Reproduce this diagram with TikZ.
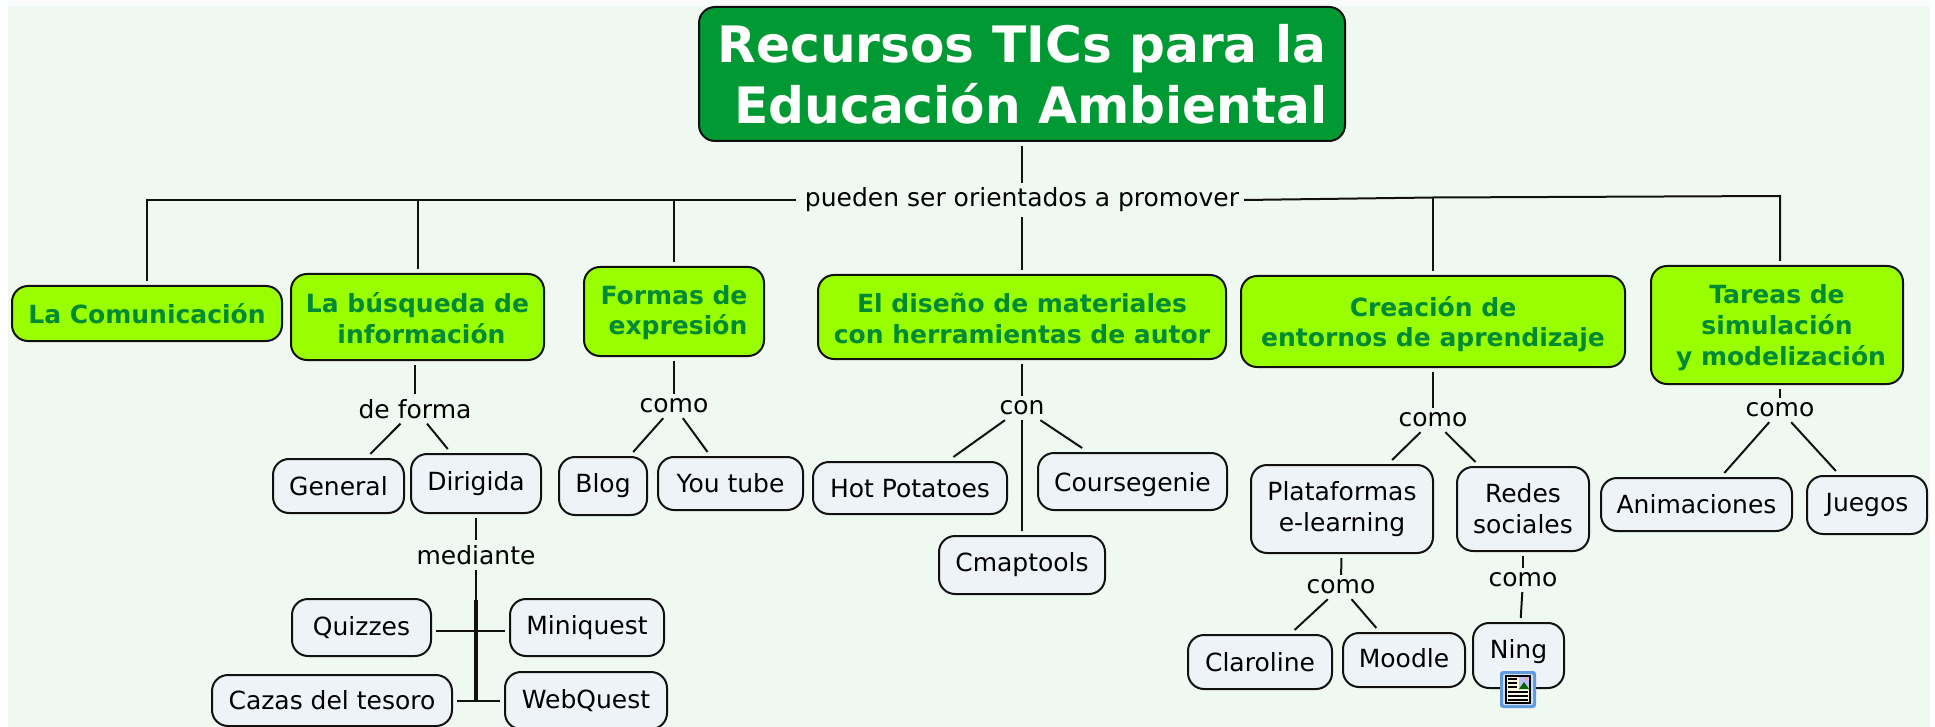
\documentclass[tikz,border=0pt]{standalone}
\usepackage{fontspec}
\setmainfont{DejaVu Sans}
\definecolor{bgc}{HTML}{EFF9F1}
\definecolor{topc}{HTML}{F9FCFB}
\definecolor{titlec}{HTML}{009933}
\definecolor{limec}{HTML}{99FF00}
\definecolor{limetext}{HTML}{008A33}
\definecolor{grayc}{HTML}{EEF3F8}
\definecolor{linec}{HTML}{111111}
\definecolor{iconframe}{HTML}{5F9BDC}
\definecolor{iconinner}{HTML}{CFE0F5}
\definecolor{iconpage}{HTML}{FFF9E0}
\newcommand\shifted[2]{\vbox{\kern#1\hbox{\begin{tabular}{@{}c@{}}#2\end{tabular}}}}
\tikzset{
  basebox/.style={draw=linec,line width=2pt,rounded corners=16pt,outer sep=5pt,inner sep=0pt,align=center},
  titlebox/.style={basebox,fill=titlec,text=white,font=\fontsize{50.2}{61}\selectfont\bfseries},
  limebox/.style={basebox,fill=limec,text=limetext,font=\fontsize{25}{30.7}\selectfont\bfseries},
  graybox/.style={basebox,fill=grayc,text=black,font=\fontsize{25}{30.5}\selectfont},
  linklabel/.style={inner sep=0pt,outer sep=5pt,text=black,font=\fontsize{25}{30}\selectfont},
  conn/.style={draw=linec,line width=2pt},
  size/.style 2 args={minimum width=#1pt,minimum height=#2pt},
}
\begin{document}
\begin{tikzpicture}[x=1pt,y=-1pt]
\useasboundingbox (0,0) rectangle (1935,727);
\fill[white] (0,0) rectangle (1935,727);
\fill[topc] (8,0) rectangle (1930,6);
\fill[bgc] (8,6) rectangle (1930,727);
% title
\node[titlebox,size={646}{134}] (title) at (1022,74) {Recursos TICs para la\\\hspace*{18pt}Educación Ambiental};
% link labels
\node[linklabel] (pueden) at (1022,200) {pueden ser orientados a promover};
\node[linklabel] (deforma) at (415,409) {de forma};
\node[linklabel] (comoF) at (674,406) {como};
\node[linklabel] (mediante) at (476,555) {mediante};
\node[linklabel] (con) at (1022,408) {con};
\node[linklabel] (comoC) at (1433,420) {como};
\node[linklabel] (comoT) at (1780,410) {como};
\node[linklabel] (comoP) at (1341,587) {como};
\node[linklabel] (comoR) at (1523,580) {como};
% main concepts
\node[limebox,size={270}{55}] (comun) at (147,313.5) {\shifted{7pt}{La Comunicación}};
\node[limebox,size={253}{86}] (busq) at (417.5,317) {\shifted{10pt}{La búsqueda de\\\hspace*{8pt}información}};
\node[limebox,size={180}{89}] (formas) at (674,311.5) {\shifted{3.5pt}{Formas de\\\hspace*{8pt}expresión}};
\node[limebox,size={408}{84}] (diseno) at (1022,317) {\shifted{9.5pt}{El diseño de materiales\\con herramientas de autor}};
\node[limebox,size={384}{91}] (crea) at (1433,321.5) {\shifted{7.5pt}{Creación de\\entornos de aprendizaje}};
\node[limebox,size={252}{118}] (tareas) at (1777,325) {\shifted{6.5pt}{Tareas de\\simulación\\\hspace*{8pt}y modelización}};
% leaf concepts
\node[graybox,size={131}{54}] (general) at (338.5,486) {General};
\node[graybox,size={130}{59}] (dirigida) at (476,483.5) {Dirigida};
\node[graybox,size={88}{58}] (blog) at (603,486) {Blog};
\node[graybox,size={145}{53}] (youtube) at (730.5,483.5) {You tube};
\node[graybox,size={194}{52}] (hot) at (910,488) {\shifted{7pt}{Hot Potatoes}};
\node[graybox,size={189}{57}] (course) at (1132.5,481.5) {\shifted{7pt}{Coursegenie}};
\node[graybox,size={166}{58}] (cmap) at (1022,565) {Cmaptools};
\node[graybox,size={182}{88}] (plata) at (1342,509) {Plataformas\\e-learning};
\node[graybox,size={132}{84}] (redes) at (1523,509) {\shifted{5.5pt}{Redes\\sociales}};
\node[graybox,size={191}{53}] (anim) at (1696.5,504.5) {Animaciones};
\node[graybox,size={120}{58}] (juegos) at (1867,505) {Juegos};
\node[graybox,size={144}{54}] (claro) at (1260,662) {Claroline};
\node[graybox,size={122}{54}] (moodle) at (1404,660) {\shifted{3pt}{Moodle}};
\node[graybox,size={91}{65}] (ning) at (1518.5,655.5) {\shifted{-6pt}{Ning}};
\node[graybox,size={139}{57}] (quiz) at (361.5,627.5) {Quizzes};
\node[graybox,size={154}{57}] (mini) at (587,627.5) {Miniquest};
\node[graybox,size={240}{51}] (cazas) at (332,700.5) {Cazas del tesoro};
\node[graybox,size={162}{57}] (web) at (586,700.5) {WebQuest};
% connectors
\draw[conn] (title) -- (pueden);
\draw[conn] (pueden) -- (diseno);
\coordinate (busL) at (796,200);
\coordinate (busC) at (1433,197.5);
\coordinate (busR) at (1780,196);
\draw[conn] (busL) -| (comun);
\draw[conn] (busL) -| (busq);
\draw[conn] (busL) -| (formas);
\draw[conn] (pueden.east) -- (busC) -- (busR) -- (busR |- tareas.north);
\draw[conn] (busC) -- (crea);
\draw[conn] (busq.south -| deforma) -- (deforma);
\draw[conn] (deforma) -- (general);
\draw[conn] (deforma) -- (dirigida);
\draw[conn] (dirigida) -- (mediante);
\coordinate (jt) at (476,600);
\coordinate (jq) at (476,630.5);
\coordinate (jc) at (476,701);
\draw[conn] (mediante) -- (jc);
\draw[draw=linec,line width=3.5pt] (jt) -- (jc);
\draw[conn] (quiz.east |- jq) -- (mini.west |- jq);
\draw[conn] (cazas.east |- jc) -- (web.west |- jc);
\draw[conn] (formas) -- (comoF);
\draw[conn] (comoF) -- (blog);
\draw[conn] (comoF) -- (youtube);
\draw[conn] (diseno) -- (con);
\draw[conn] (con) -- (hot);
\draw[conn] (con) -- (course);
\draw[conn] (con) -- (cmap);
\draw[conn] (crea) -- (comoC);
\draw[conn] (comoC) -- (plata);
\draw[conn] (comoC) -- (redes);
\draw[conn] (tareas.south -| comoT) -- (comoT);
\draw[conn] (comoT) -- (anim);
\draw[conn] (comoT) -- (juegos);
\draw[conn] (plata) -- (comoP);
\draw[conn] (comoP) -- (claro);
\draw[conn] (comoP) -- (moodle);
\draw[conn] (redes) -- (comoR);
\draw[conn] (comoR) -- (ning);
% attachment icon on Ning
\fill[iconframe,rounded corners=3pt] (1500,671) rectangle (1536,708);
\fill[iconinner,rounded corners=2pt] (1503,674) rectangle (1533,705);
\fill[iconpage] (1506,676) rectangle (1530,703);
\draw[black,line width=1.2pt] (1506,676) rectangle (1530,703);
\fill[blue!25] (1519,677) rectangle (1529,689);
\fill[green!40!black] (1519,689) -- (1524,682) -- (1529,689) -- cycle;
\fill[orange!70] (1526,679) circle (1.5);
\foreach \yy in {679,683,687}{\draw[black,line width=1.2pt] (1508,\yy) -- (1517,\yy);}
\foreach \yy in {692,696,700}{\draw[black,line width=1.2pt] (1508,\yy) -- (1528,\yy);}
\end{tikzpicture}
\end{document}
